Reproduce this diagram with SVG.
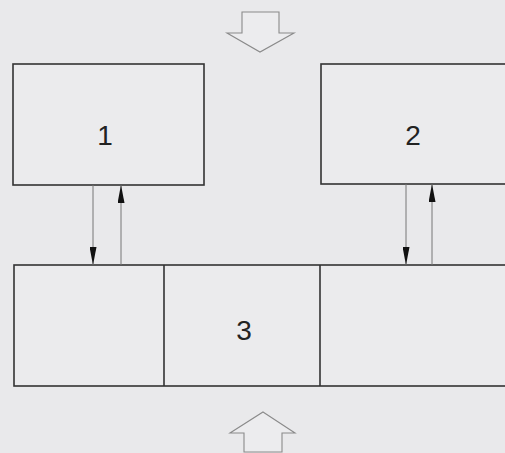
<svg xmlns="http://www.w3.org/2000/svg" width="505" height="453" viewBox="0 0 505 453">
<style>
.box{fill:#ebebed;stroke:#333;stroke-width:1.6}
.lbl{font-family:"Liberation Sans",Arial,sans-serif;font-size:28px;fill:#222;text-anchor:middle;dominant-baseline:central}
.conn{stroke:#777;stroke-width:1;fill:none}
.hollow{fill:#ececee;stroke:#8a8a8a;stroke-width:1.1}
</style>
<defs>
<marker id="ah" viewBox="0 0 18 7" refX="18" refY="3.5" markerWidth="18" markerHeight="7" markerUnits="userSpaceOnUse" orient="auto">
<path d="M0,0 L18,3.5 L0,7 Z" fill="#111"/>
</marker>
</defs>
<rect width="505" height="453" fill="#e9e9eb"/>
<g id="top-arrow"><path class="hollow" d="M242,12 L279,12 L279,33 L294,33 L260,52 L227,33 L242,33 Z"/></g>
<g id="bottom-arrow"><path class="hollow" d="M263,412 L295,433 L282,433 L282,452 L244,452 L244,433 L230,433 Z"/></g>
<g id="node1"><rect class="box" x="13" y="64" width="191" height="121"/><text class="lbl" x="105" y="135">1</text></g>
<g id="node2"><rect class="box" x="321" y="64" width="200" height="120"/><text class="lbl" x="413" y="135">2</text></g>
<g id="node3">
<rect class="box" x="14" y="265" width="510" height="121"/>
<line x1="164" y1="265" x2="164" y2="386" stroke="#333" stroke-width="1.6"/>
<line x1="320" y1="265" x2="320" y2="386" stroke="#333" stroke-width="1.6"/>
<text class="lbl" x="244" y="330">3</text>
</g>
<g id="connectors">
<line class="conn" x1="93" y1="185" x2="93" y2="265" marker-end="url(#ah)"/>
<line class="conn" x1="121" y1="265" x2="121" y2="185" marker-end="url(#ah)"/>
<line class="conn" x1="406" y1="184" x2="406" y2="265" marker-end="url(#ah)"/>
<line class="conn" x1="432" y1="265" x2="432" y2="184" marker-end="url(#ah)"/>
</g>
</svg>
